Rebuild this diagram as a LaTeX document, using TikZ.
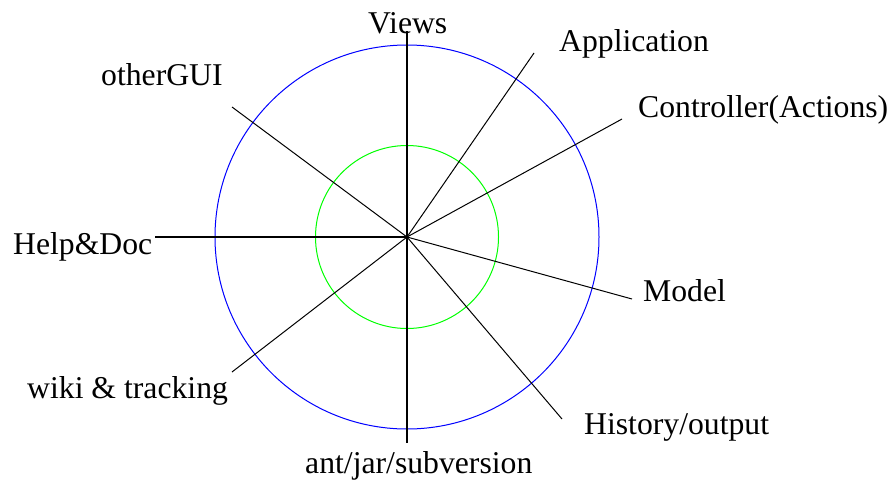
\documentclass[tikz,border=0pt]{standalone}
\usepackage{fontspec}
\setmainfont{Liberation Serif}
\begin{document}
\begin{tikzpicture}[x=1pt,y=-1pt,
  lbl/.style={anchor=base west,inner sep=0pt,font=\fontsize{31.7}{38}\selectfont},
  thinray/.style={draw=black,line width=1pt},
  thickray/.style={draw=black,line width=2pt}]
\useasboundingbox (0,0) rectangle (891,480);
\coordinate (c) at (407,237);
% circles
\draw[blue,line width=1pt] (c) circle[radius=192];
\draw[green,line width=1pt] (c) circle[radius=91.5];
% ray ends
\coordinate (eV) at (407,31);
\coordinate (eA) at (534,53);
\coordinate (eC) at (622,119);
\coordinate (eM) at (632,299);
\coordinate (eH) at (562,419);
\coordinate (eS) at (407,443);
\coordinate (eW) at (232,372);
\coordinate (eD) at (155,237);
\coordinate (eG) at (232,107);
% rays
\draw[thickray] (eV) -- (c) -- (eS);
\draw[thickray] (eD) -- (c);
\draw[thinray] (c) -- (eA);
\draw[thinray] (c) -- (eC);
\draw[thinray] (c) -- (eM);
\draw[thinray] (c) -- (eH);
\draw[thinray] (c) -- (eW);
\draw[thinray] (c) -- (eG);
% labels
\node[lbl] (views) at (368,33) {Views};
\node[lbl] (app) at (559,51) {Application};
\node[lbl] (ctrl) at (638,117) {Controller(Actions)};
\node[lbl] (model) at (643,301) {Model};
\node[lbl] (hist) at (584,434) {History/output};
\node[lbl] (ant) at (305,473) {ant/jar/subversion};
\node[lbl] (wiki) at (27,398) {wiki \& tracking};
\node[lbl] (help) at (13,254) {Help\&Doc};
\node[lbl] (gui) at (101,85) {otherGUI};
\end{tikzpicture}
\end{document}
